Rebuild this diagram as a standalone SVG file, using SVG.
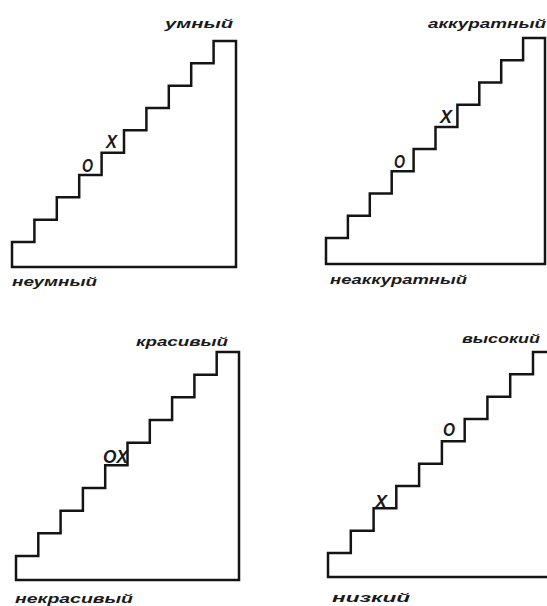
<svg xmlns="http://www.w3.org/2000/svg" width="547" height="606" viewBox="0 0 547 606">
<style>
.st{fill:none;stroke:#141414;stroke-width:2.5;stroke-linejoin:miter}
.lb{font-family:"Liberation Sans",Arial,sans-serif;font-style:italic;font-weight:bold;font-size:13px;fill:#1a1a1a}
.mk{font-family:"Liberation Sans",Arial,sans-serif;font-style:italic;font-weight:bold;font-size:18px;fill:#1a1a1a}
</style>
<rect width="547" height="606" fill="#ffffff"/>
<g id="panel-smart">
<path class="st" d="M12,267 V242 H34.4 V219.7 H56.8 V197.3 H79.2 V175 H101.6 V152.7 H124 V130.3 H146.4 V108 H168.8 V85.7 H191.2 V63.3 H213.6 V41 H236 V267 Z"/>
<text class="lb" x="165" y="28" textLength="68" lengthAdjust="spacingAndGlyphs">умный</text>
<text class="lb" x="12" y="286" textLength="85" lengthAdjust="spacingAndGlyphs">неумный</text>
<text class="mk" x="82" y="172" textLength="11" lengthAdjust="spacingAndGlyphs">O</text>
<text class="mk" x="106" y="148" textLength="11" lengthAdjust="spacingAndGlyphs">X</text>
</g>
<g id="panel-neat">
<path class="st" d="M326,264 V238 H347.9 V215.8 H369.8 V193.6 H391.7 V171.3 H413.6 V149.1 H435.5 V126.9 H457.4 V104.7 H479.3 V82.4 H501.2 V60.2 H523.1 V38 H545 V264 Z"/>
<text class="lb" x="428" y="28" textLength="118" lengthAdjust="spacingAndGlyphs">аккуратный</text>
<text class="lb" x="330" y="284" textLength="137" lengthAdjust="spacingAndGlyphs">неаккуратный</text>
<text class="mk" x="394" y="168" textLength="11" lengthAdjust="spacingAndGlyphs">O</text>
<text class="mk" x="440" y="123" textLength="12" lengthAdjust="spacingAndGlyphs">X</text>
</g>
<g id="panel-beautiful">
<path class="st" d="M16,580 V556 H38.3 V533.3 H60.6 V510.7 H82.9 V488 H105.2 V465.3 H127.5 V442.7 H149.8 V420 H172.1 V397.3 H194.4 V374.7 H216.7 V352 H239 V580 Z"/>
<text class="lb" x="136" y="346" textLength="92" lengthAdjust="spacingAndGlyphs">красивый</text>
<text class="lb" x="15" y="603" textLength="118" lengthAdjust="spacingAndGlyphs">некрасивый</text>
<text class="mk" x="103" y="463" textLength="25" lengthAdjust="spacingAndGlyphs">OX</text>
</g>
<g id="panel-tall">
<path class="st" d="M328,577 V553 H350.8 V530.7 H373.6 V508.3 H396.3 V486 H419.1 V463.7 H441.9 V441.3 H464.7 V419 H487.4 V396.7 H510.2 V374.3 H533 V352 H556 V577 Z"/>
<text class="lb" x="462" y="343" textLength="78" lengthAdjust="spacingAndGlyphs">высокий</text>
<text class="lb" x="332" y="602" textLength="78" lengthAdjust="spacingAndGlyphs">низкий</text>
<text class="mk" x="375" y="508" textLength="12" lengthAdjust="spacingAndGlyphs">X</text>
<text class="mk" x="443" y="436" textLength="12" lengthAdjust="spacingAndGlyphs">O</text>
</g>
</svg>
